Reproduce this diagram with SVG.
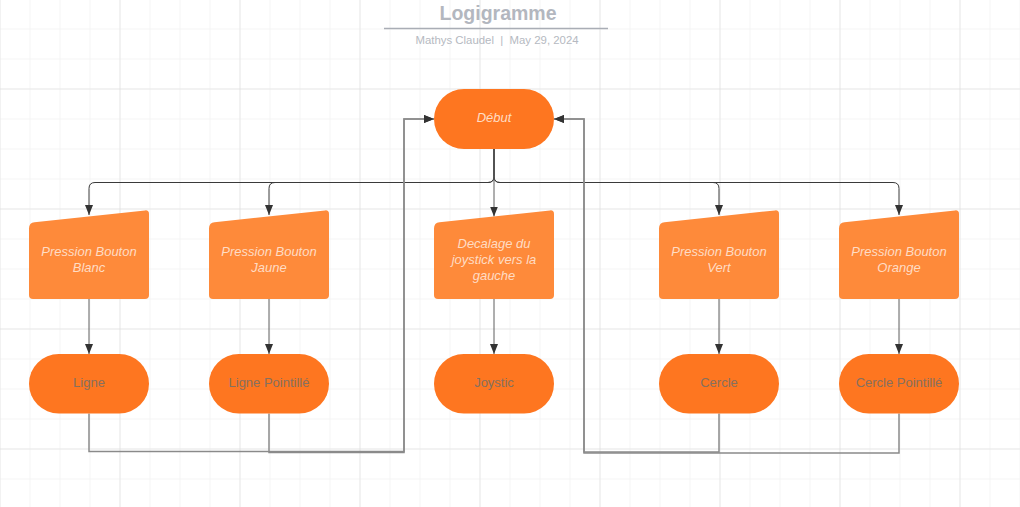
<svg xmlns="http://www.w3.org/2000/svg" width="1020" height="507" viewBox="0 0 1020 507">
<defs>
<pattern id="minor" x="29.5" y="-1.5" width="30" height="30" patternUnits="userSpaceOnUse">
<path d="M0,0 V30 M0,0 H30" fill="none" stroke="#ebebeb" stroke-width="1"/>
</pattern>
<pattern id="major" x="-0.5" y="-31.5" width="120" height="120" patternUnits="userSpaceOnUse">
<path d="M0,0 V120 M0,0 H120" fill="none" stroke="#dadada" stroke-width="1"/>
</pattern>
<marker id="arr" viewBox="0 0 10 10" refX="10" refY="5" markerWidth="10" markerHeight="10" markerUnits="userSpaceOnUse" orient="auto">
<path d="M0,1 L10,5 L0,9 Z" fill="#333"/>
</marker>
<path id="mi" d="M0,18.5 Q0,12.9 5.5,12.3 L116,0.4 Q120,0 120,4 L120,85 Q120,89 116,89 L4,89 Q0,89 0,85 Z"/>
</defs>
<style>
.term{fill:#fe7620}
.inp{fill:#fe8a3a}
.lt{font-family:"Liberation Sans",Arial,sans-serif;font-size:13px;font-style:italic;fill:#ffdcc4;text-anchor:middle}
.dt{font-family:"Liberation Sans",Arial,sans-serif;font-size:13px;fill:#86705f;text-anchor:middle}
.c1{fill:none;stroke:#3a3a3a;stroke-width:1}
.c2{fill:none;stroke:#5e5e5e;stroke-width:1}
.c3{fill:none;stroke:#8a8a8a;stroke-width:1.5}
</style>
<rect width="1020" height="507" fill="#ffffff"/>
<rect width="1020" height="507" fill="url(#minor)"/>
<rect width="1020" height="507" fill="url(#major)"/>

<g id="title">
<text x="498" y="20" font-family="Liberation Sans,Arial,sans-serif" font-size="19.5" font-weight="bold" fill="#b3b7bf" text-anchor="middle">Logigramme</text>
<line x1="384" y1="28.5" x2="608" y2="28.5" stroke="#a9adb5" stroke-width="1.5"/>
<text x="497" y="44" font-family="Liberation Sans,Arial,sans-serif" font-size="11.4" fill="#b5b9c1" text-anchor="middle" xml:space="preserve">Mathys Claudel  |  May 29, 2024</text>
</g>

<g id="connectors">
<path class="c1" d="M494,149 V176.5 Q494,182.5 488,182.5 H95 Q89,182.5 89,188.5 V215" marker-end="url(#arr)"/>
<path class="c1" d="M494,149 V176.5 Q494,182.5 488,182.5 H275 Q269,182.5 269,188.5 V215" marker-end="url(#arr)"/>
<path class="c1" d="M494,149 V176.5 Q494,182.5 500,182.5 H713 Q719,182.5 719,188.5 V215" marker-end="url(#arr)"/>
<path class="c1" d="M494,149 V176.5 Q494,182.5 500,182.5 H893 Q899,182.5 899,188.5 V215" marker-end="url(#arr)"/>
<path class="c2" d="M494,149 V216.5" marker-end="url(#arr)"/>
<path class="c2" d="M89,299 V354" marker-end="url(#arr)"/>
<path class="c2" d="M269,299 V354" marker-end="url(#arr)"/>
<path class="c2" d="M494,299 V354" marker-end="url(#arr)"/>
<path class="c2" d="M719,299 V354" marker-end="url(#arr)"/>
<path class="c2" d="M899,299 V354" marker-end="url(#arr)"/>
<path class="c3" d="M89,413.5 V451.5 H404 V119 H434" marker-end="url(#arr)"/>
<path class="c3" d="M269,413.5 V452.5 H404 V119 H434" marker-end="url(#arr)"/>
<path class="c3" d="M719,413.5 V452 H584 V119 H554" marker-end="url(#arr)"/>
<path class="c3" d="M899,413.5 V453 H584 V119 H554" marker-end="url(#arr)"/>
</g>

<g id="debut">
<rect class="term" x="434" y="89" width="120" height="60" rx="30"/>
<text class="lt" x="494" y="121.5">Début</text>
</g>

<g id="pb-blanc" transform="translate(29,210)">
<use href="#mi" class="inp"/>
<text class="lt" x="60" y="46">Pression Bouton</text>
<text class="lt" x="60" y="62">Blanc</text>
</g>
<g id="pb-jaune" transform="translate(209,210)">
<use href="#mi" class="inp"/>
<text class="lt" x="60" y="46">Pression Bouton</text>
<text class="lt" x="60" y="62">Jaune</text>
</g>
<g id="decalage" transform="translate(434,210)">
<use href="#mi" class="inp"/>
<text class="lt" x="60" y="38">Decalage du</text>
<text class="lt" x="60" y="54">joystick vers la</text>
<text class="lt" x="60" y="70">gauche</text>
</g>
<g id="pb-vert" transform="translate(659,210)">
<use href="#mi" class="inp"/>
<text class="lt" x="60" y="46">Pression Bouton</text>
<text class="lt" x="60" y="62">Vert</text>
</g>
<g id="pb-orange" transform="translate(839,210)">
<use href="#mi" class="inp"/>
<text class="lt" x="60" y="46">Pression Bouton</text>
<text class="lt" x="60" y="62">Orange</text>
</g>

<g id="ligne">
<rect class="term" x="29" y="354" width="120" height="59.5" rx="29.75"/>
<text class="dt" x="89" y="387">Ligne</text>
</g>
<g id="ligne-pointille">
<rect class="term" x="209" y="354" width="120" height="59.5" rx="29.75"/>
<text class="dt" x="269" y="387">Ligne Pointillé</text>
</g>
<g id="joystic">
<rect class="term" x="434" y="354" width="120" height="59.5" rx="29.75"/>
<text class="dt" x="494" y="387">Joystic</text>
</g>
<g id="cercle">
<rect class="term" x="659" y="354" width="120" height="59.5" rx="29.75"/>
<text class="dt" x="719" y="387">Cercle</text>
</g>
<g id="cercle-pointille">
<rect class="term" x="839" y="354" width="120" height="59.5" rx="29.75"/>
<text class="dt" x="899" y="387">Cercle Pointillé</text>
</g>
</svg>
